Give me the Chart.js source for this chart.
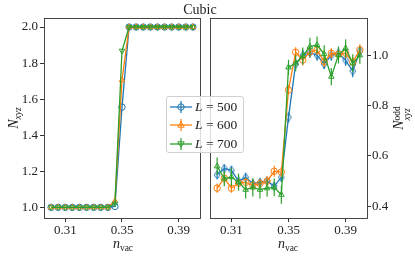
<!DOCTYPE html>
<html>
<head>
<meta charset="utf-8">
<script src="https://cdn.jsdelivr.net/npm/chart.js@4.4.1/dist/chart.umd.min.js"></script>
<style>
  html, body { margin: 0; padding: 0; background: #fff; }
  #wrap { position: relative; width: 415px; height: 258px; overflow: hidden;
          font-family: 'Liberation Serif', serif; color: #222; }
  canvas { position: absolute; top: 0; }
  #c-left { left: 0; }
  #c-right { left: 205px; }
  .title { position: absolute; left: 200px; top: 10px; transform: translate(-50%, -50%);
           font-size: 14px; white-space: nowrap; }
  .lab { position: absolute; transform: translate(-50%, -50%); font-size: 14px; white-space: nowrap; }
  .lab sub { font-size: 9.5px; vertical-align: -3px; }
  .ylab { transform: translate(-50%, -50%) rotate(-90deg); }
  .ss { display: inline-block; vertical-align: -7px; font-size: 9.5px; line-height: 10px; }
  .ss span { display: block; }
  #legend { position: absolute; left: 166px; top: 96px; width: 78px; height: 57px;
            box-sizing: border-box; border: 1px solid #d0d0d0; border-radius: 3px;
            background: rgba(255,255,255,0.8); padding-top: 1px; }
  #legend .row { height: 18.3px; display: flex; align-items: center; font-size: 13.5px; }
  #legend svg { margin-left: 3px; margin-right: 3px; }
</style>
</head>
<body>
<div id="wrap">
  <canvas id="c-left" width="205" height="258"></canvas>
  <canvas id="c-right" width="210" height="258"></canvas>
  <div class="title">Cubic</div>
  <div class="lab ylab" style="left:14px;top:118px"><i>N</i><sub><i>xyz</i></sub></div>
  <div class="lab" style="left:123px;top:244px"><i>n</i><sub>vac</sub></div>
  <div class="lab" style="left:288px;top:244px"><i>n</i><sub>vac</sub></div>
  <div class="lab ylab" style="left:401px;top:118px"><i>N</i><span class="ss"><span>odd</span><span><i>xyz</i></span></span></div>
  <div id="legend"></div>
</div>
<script>
// Two side-by-side panels sharing the n_vac axis; legend sits over the gap.

const nVac = [0.300, 0.305, 0.310, 0.315, 0.320, 0.325, 0.330, 0.335, 0.340, 0.345,
              0.350, 0.355, 0.360, 0.365, 0.370, 0.375, 0.380, 0.385, 0.390, 0.395, 0.400];

const sizes = ['500', '600', '700'];
const colors = ['#1f77b4', '#ff7f0e', '#2ca02c'];

// left panel: N_xyz
const nxyz500 = [1, 1, 1, 1, 1, 1, 1, 1, 1, 1.005, 1.556, 2, 2, 2, 2, 2, 2, 2, 2, 2, 2];
const nxyz600 = [1, 1, 1, 1, 1, 1, 1, 1, 1, 1.035, 1.706, 2, 2, 2, 2, 2, 2, 2, 2, 2, 2];
const nxyz700 = [1, 1, 1, 1, 1, 1, 1, 1, 1, 1.02, 1.868, 2, 2, 2, 2, 2, 2, 2, 2, 2, 2];

// right panel: N_xyz^odd with error bars
const odd500 = [0.525, 0.550, 0.543, 0.500, 0.515, 0.490, 0.495, 0.500, 0.480, 0.515,
                0.753, 0.965, 1.000, 1.010, 1.000, 0.965, 1.000, 1.008, 0.980, 0.937, 1.016];
const odd600 = [0.472, 0.512, 0.472, 0.492, 0.495, 0.483, 0.490, 0.500, 0.539, 0.536,
                0.862, 1.012, 0.981, 1.014, 1.021, 0.975, 1.008, 1.004, 1.008, 0.973, 1.022];
const odd700 = [0.559, 0.510, 0.516, 0.496, 0.466, 0.475, 0.466, 0.472, 0.475, 0.446,
                0.952, 0.968, 0.997, 1.034, 1.041, 1.005, 0.915, 1.001, 1.028, 0.968, 1.000];
const err500 = [0.015, 0.015, 0.015, 0.016, 0.015, 0.016, 0.015, 0.016, 0.017, 0.018,
                0.020, 0.020, 0.022, 0.020, 0.022, 0.020, 0.022, 0.020, 0.022, 0.024, 0.022];
const err600 = [0.018, 0.020, 0.018, 0.020, 0.018, 0.020, 0.018, 0.020, 0.022, 0.020,
                0.020, 0.020, 0.022, 0.022, 0.020, 0.022, 0.020, 0.022, 0.020, 0.020, 0.022];
const err700 = [0.035, 0.030, 0.035, 0.034, 0.035, 0.036, 0.035, 0.034, 0.035, 0.036,
                0.030, 0.032, 0.034, 0.036, 0.034, 0.035, 0.034, 0.034, 0.035, 0.036, 0.034];

const xTicks = [0.31, 0.35, 0.39];
const leftYTicks = [1.0, 1.2, 1.4, 1.6, 1.8, 2.0];
const rightYTicks = [0.4, 0.6, 0.8, 1.0];

const INK = '#222';
const FONT = { family: "'Liberation Serif', serif", size: 13 };

function pts(ys) {
  return nVac.map((x, i) => ({ x, y: ys[i] }));
}

// matplotlib's thin diamond ('d') as an open sprite
function thinDiamond(color) {
  const c = document.createElement('canvas');
  c.width = 8; c.height = 10;
  const g = c.getContext('2d');
  g.strokeStyle = color;
  g.lineWidth = 1;
  g.beginPath();
  g.moveTo(4, 0.8); g.lineTo(6.8, 5); g.lineTo(4, 9.2); g.lineTo(1.2, 5);
  g.closePath();
  g.stroke();
  return c;
}

// vertical error bars drawn under each dataset's line, using its own y scale
const errorBars = {
  id: 'errorBars',
  beforeDatasetDraw(chart, args) {
    const ds = chart.data.datasets[args.index];
    if (!ds.errors) return;
    const ys = chart.scales[args.meta.yAxisID];
    const ctx = chart.ctx;
    ctx.save();
    ctx.strokeStyle = ds.borderColor;
    ctx.lineWidth = 1.2;
    args.meta.data.forEach((p, i) => {
      const e = ds.errors[i];
      if (!e) return;
      const v = ds.data[i].y;
      ctx.beginPath();
      ctx.moveTo(p.x, ys.getPixelForValue(v - e));
      ctx.lineTo(p.x, ys.getPixelForValue(v + e));
      ctx.stroke();
    });
    ctx.restore();
  },
};

// matplotlib-style box around the plot area
const frame = {
  id: 'frame',
  afterDraw(chart) {
    const a = chart.chartArea, ctx = chart.ctx;
    ctx.save();
    ctx.strokeStyle = '#333';
    ctx.lineWidth = 0.9;
    ctx.strokeRect(Math.round(a.left) + 0.5, Math.round(a.top) + 0.5,
                   Math.round(a.right - a.left), Math.round(a.bottom - a.top));
    ctx.restore();
  },
};

function series(ys, i, style, rot, errs) {
  return {
    data: pts(ys),
    errors: errs,
    borderColor: colors[i],
    backgroundColor: 'rgba(0,0,0,0)',
    borderWidth: 1.3,
    pointStyle: style,
    pointRotation: rot || 0,
    pointRadius: 3.2,
    pointBorderWidth: 1,
    pointBackgroundColor: 'rgba(0,0,0,0)',
    order: 2 - i,   // green on top
    tension: 0,
  };
}

function makeChart(id, datasets, yTicks, yRange, side, pad, yWidth, fmtY) {
  return new Chart(document.getElementById(id), {
    type: 'line',
    data: { datasets },
    plugins: [errorBars, frame],
    options: {
      responsive: false,
      animation: false,
      layout: { padding: pad },
      plugins: { legend: { display: false }, tooltip: { enabled: false } },
      scales: {
        x: {
          type: 'linear',
          min: 0.295, max: 0.405,
          afterBuildTicks: s => { s.ticks = xTicks.map(v => ({ value: v })); },
          afterFit: s => { s.height = 40; },
          ticks: { color: INK, font: FONT, padding: 1, maxRotation: 0,
                   callback: v => v.toFixed(2) },
          grid: { drawOnChartArea: false, tickLength: 4, tickColor: '#333' },
          border: { display: false },
        },
        y: {
          type: 'linear',
          position: side,
          min: yRange[0], max: yRange[1],
          afterBuildTicks: s => { s.ticks = yTicks.map(v => ({ value: v })); },
          afterFit: s => { s.width = yWidth; },
          ticks: { color: INK, font: FONT, padding: side === 'left' ? 2 : 1,
                   callback: fmtY },
          grid: { drawOnChartArea: false, tickLength: 4, tickColor: '#333' },
          border: { display: false },
        },
      },
    },
  });
}

makeChart('c-left', [
  series(nxyz500, 0, 'circle'),
  series(nxyz600, 1, 'triangle'),
  series(nxyz700, 2, 'triangle', 180),
], leftYTicks, [0.941, 2.05], 'left', { left: 0, right: 2, top: 18, bottom: 0 }, 44,
  v => v.toFixed(1));

makeChart('c-right', [
  series(odd500, 0, thinDiamond(colors[0]), 0, err500),
  series(odd600, 1, 'circle', 0, err600),
  series(odd700, 2, 'triangle', 0, err700),
], rightYTicks, [0.3535, 1.148], 'right', { left: 3, right: 0, top: 18, bottom: 0 }, 48,
  v => v.toFixed(1));

// legend (refers to left-panel markers)
const legendMarks = [
  '<circle cx="11" cy="7" r="3.2" fill="none" stroke="C" stroke-width="1"/>',
  '<polygon points="11,3.6 14.2,9.2 7.8,9.2" fill="none" stroke="C" stroke-width="1"/>',
  '<polygon points="11,10.4 14.2,4.8 7.8,4.8" fill="none" stroke="C" stroke-width="1"/>',
];
document.getElementById('legend').innerHTML = sizes.map((L, i) => {
  const c = colors[i];
  return '<div class="row"><svg width="22" height="14">' +
    '<line x1="0" y1="7" x2="22" y2="7" stroke="' + c + '" stroke-width="1.3"/>' +
    '<line x1="11" y1="1" x2="11" y2="13" stroke="' + c + '" stroke-width="1.2"/>' +
    legendMarks[i].replace('C', c) +
    '</svg><span><i>L</i> = ' + L + '</span></div>';
}).join('');
</script>
</body>
</html>
